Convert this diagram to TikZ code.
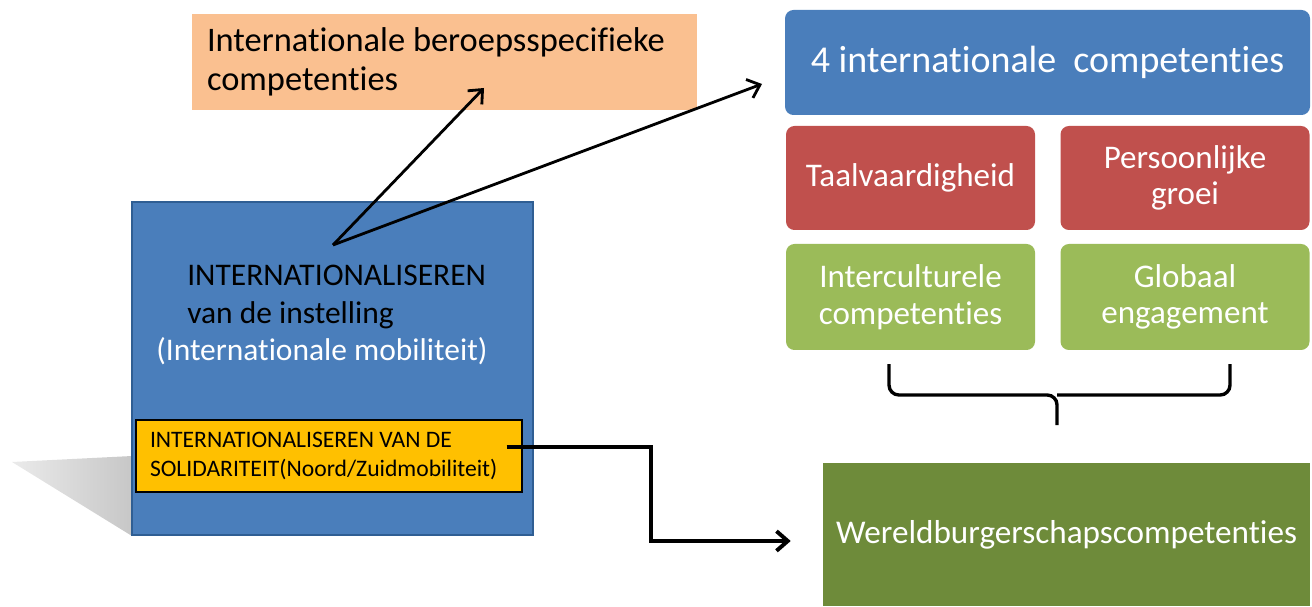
\documentclass[tikz,border=0pt]{standalone}
\usepackage{fontspec}
\setmainfont{Carlito}[Ligatures={NoCommon}]
\usetikzlibrary{arrows.meta}
\definecolor{oranjevak}{HTML}{FAC090}
\definecolor{blauwvak}{HTML}{4A7EBB}
\definecolor{blauwrand}{HTML}{2F5E93}
\definecolor{blauwlicht}{HTML}{4A7EBB}
\definecolor{roodvak}{HTML}{C0504D}
\definecolor{groenvak}{HTML}{9BBB59}
\definecolor{olijfvak}{HTML}{6E8B3A}
\definecolor{geelvak}{HTML}{FFC000}
\begin{document}
\begin{tikzpicture}[
            > = {Straight Barb[length=8pt, width=14pt]}, % arrow head style
            pijl/.style = {->, line width=2pt}, % arrows between boxes
            vak/.style = {rectangle, inner sep=0pt}, % plain box
            tegel/.style = {rectangle, rounded corners=6pt, fill=#1, text=white,
                            minimum width=6.225cm, minimum height=2.6cm,
                            align=center, font=\fontsize{23.5}{26}\selectfont},
        ]
        \useasboundingbox (0,0) rectangle (32.8,15.15);
        % shadow of the institution box
        \shade[left color=black!8, right color=black!22]
            (0.3,3.6) -- (3.3,3.75) -- (3.3,1.75) -- cycle;
        % left part
        \node[vak, fill=oranjevak, minimum width=12.625cm, minimum height=2.4cm,
              text width=11.875cm, align=flush left, font=\fontsize{24.5}{28}\selectfont]
              (beroep) at (11.1125,13.6) {Internationale beroepsspecifieke\\competenties};
        \node[vak, fill=blauwvak, draw=blauwrand, line width=1.2pt,
              minimum width=10.025cm, minimum height=8.325cm] (instelling) at (8.3125,5.9375) {};
        \node[align=flush left, anchor=west, inner sep=0pt, font=\fontsize{22.4}{26.5}\selectfont]
              (insttekst) at (4.675,7.275) {INTERNATIONALISEREN\\van de instelling\\
              \hspace*{-0.775cm}\textcolor{white}{(Internationale mobiliteit)}};
        \node[vak, fill=geelvak, draw=black, line width=0.8pt,
              minimum width=9.65cm, minimum height=1.8cm, text width=8.95cm,
              align=flush left, font=\fontsize{16.8}{20.6}\selectfont]
              (solidariteit) at (8.225,3.75) {INTERNATIONALISEREN VAN DE\\SOLIDARITEIT(Noord/Zuidmobiliteit)};
        % right part
        \node[vak, rounded corners=6pt, fill=blauwlicht, text=white,
              minimum width=13.125cm, minimum height=2.625cm,
              font=\fontsize{27}{31}\selectfont]
              (competenties) at (26.1875,13.5875) {4 internationale\ \ competenties};
        \node[tegel=roodvak] (taal) at (22.7625,10.7) {Taalvaardigheid};
        \node[tegel=roodvak] (groei) at (29.625,10.7) {Persoonlijke\\groei};
        \node[tegel=groenvak, minimum height=2.65cm] (intercultureel) at (22.7625,7.725) {Interculturele\\competenties};
        \node[tegel=groenvak, minimum height=2.65cm] (globaal) at (29.625,7.725) {Globaal\\engagement};
        \node[vak, fill=olijfvak, text=white, minimum width=12.175cm, minimum height=3.575cm,
              font=\fontsize{23.6}{28}\selectfont]
              (wereldburger) at (26.6625,1.7875) {Wereldburgerschapscompetenties};
        % brace under the four tiles
        \draw[line width=2.4pt, rounded corners=7pt]
            (22.225,6.05) |- (26.425,5.275) -- (26.425,4.525);
        \draw[line width=2.4pt, rounded corners=7pt]
            (30.75,6.05) |- (26.425,5.275);
        % arrows
        \coordinate (vork) at (8.325,9.025);
        \coordinate (beroeptip) at (12.1,12.95);
        \coordinate (competentietip) at (19.05,13.05);
        \draw[pijl] (vork) -- (beroeptip);
        \draw[pijl] (vork) -- (competentietip);
        \draw[pijl, line width=2.8pt, shorten >=0.8cm]
            ([xshift=-0.4cm, yshift=0.225cm]solidariteit.east) -| (16.275,1.625) -- (wereldburger.west |- 0,1.625);
        \end{tikzpicture}
\end{document}
